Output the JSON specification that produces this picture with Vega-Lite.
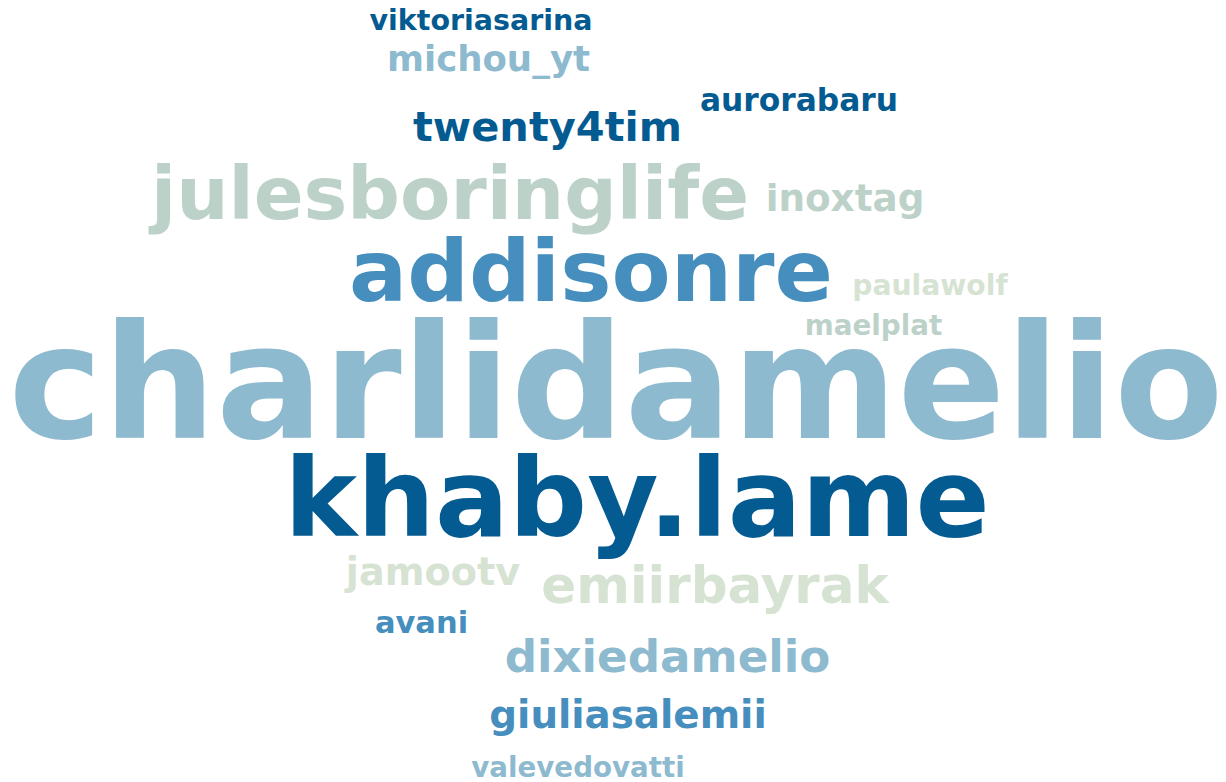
{
  "$schema": "https://vega.github.io/schema/vega-lite/v6.json",
  "width": 1226,
  "height": 782,
  "padding": 0,
  "autosize": {"type": "none"},
  "background": "#ffffff",
  "config": {"view": {"stroke": null}},
  "data": {
    "values": [
      {"word": "viktoriasarina", "px": 481, "py": 30, "score": 28.5, "tone": "dark"},
      {"word": "michou_yt", "px": 488.5, "py": 71, "score": 35.5, "tone": "light"},
      {"word": "aurorabaru", "px": 799, "py": 111, "score": 31.3, "tone": "dark"},
      {"word": "twenty4tim", "px": 547.5, "py": 141, "score": 41.5, "tone": "dark"},
      {"word": "julesboringlife", "px": 450, "py": 219, "score": 73.5, "tone": "sage"},
      {"word": "inoxtag", "px": 845, "py": 211, "score": 37.3, "tone": "sage"},
      {"word": "addisonre", "px": 591, "py": 301, "score": 86.2, "tone": "mid"},
      {"word": "paulawolf", "px": 930, "py": 295, "score": 28.2, "tone": "pale"},
      {"word": "maelplat", "px": 873.5, "py": 335, "score": 27.8, "tone": "sage"},
      {"word": "charlidamelio", "px": 616, "py": 438, "score": 159, "tone": "light"},
      {"word": "khaby.lame", "px": 637, "py": 536, "score": 109.5, "tone": "dark"},
      {"word": "jamootv", "px": 433, "py": 585, "score": 38.2, "tone": "pale"},
      {"word": "emiirbayrak", "px": 715, "py": 603, "score": 51.5, "tone": "pale"},
      {"word": "avani", "px": 421.5, "py": 633, "score": 30.5, "tone": "mid"},
      {"word": "dixiedamelio", "px": 667.5, "py": 672, "score": 45.2, "tone": "light"},
      {"word": "giuliasalemii", "px": 628, "py": 728, "score": 38.8, "tone": "mid"},
      {"word": "valevedovatti", "px": 578, "py": 777, "score": 27.7, "tone": "light"}
    ]
  },
  "mark": {
    "type": "text",
    "font": "DejaVu Sans",
    "fontWeight": "bold",
    "align": "center",
    "baseline": "alphabetic"
  },
  "encoding": {
    "x": {"field": "px", "type": "quantitative", "scale": {"domain": [0, 1226], "nice": false, "zero": false}, "axis": null},
    "y": {"field": "py", "type": "quantitative", "scale": {"domain": [0, 782], "nice": false, "zero": false, "reverse": true}, "axis": null},
    "text": {"field": "word", "type": "nominal"},
    "size": {"field": "score", "type": "quantitative", "scale": {"type": "linear", "domain": [0, 160], "range": [0, 160], "zero": true}, "legend": null},
    "color": {
      "field": "tone",
      "type": "nominal",
      "scale": {"domain": ["dark", "mid", "light", "sage", "pale"], "range": ["#045b91", "#458ebd", "#8dbacf", "#bcd2c9", "#d6e3d3"]},
      "legend": null
    }
  }
}
